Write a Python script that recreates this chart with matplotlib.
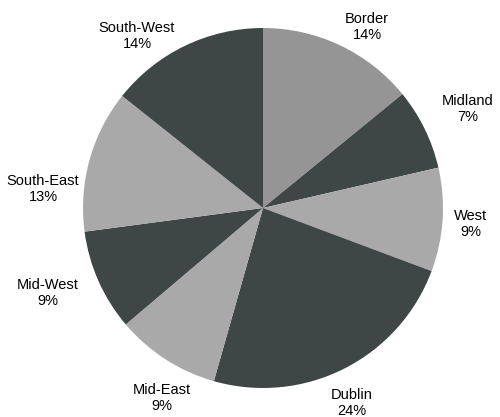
import matplotlib
matplotlib.use("Agg")
import matplotlib.pyplot as plt

regions = ["Border", "Midland", "West", "Dublin", "Mid-East", "Mid-West", "South-East", "South-West"]
shares = [14.1, 7.3, 9.3, 23.7, 9.4, 9.1, 12.8, 14.3]

light1 = "#959595"
light2 = "#a9a9a9"
dark = "#3e4646"
colors = [light1, dark, light2, dark, light2, dark, light2, dark]

# label block centres in pixel coordinates (x, y from top)
label_pos = [(367, 27), (468, 109), (471, 224), (352, 403),
             (162, 398), (48, 293), (43, 189), (137, 36)]

W, H = 500, 417
fig = plt.figure(figsize=(W / 100, H / 100), dpi=100)
ax = fig.add_axes([0, 0, 1, 1])

ax.pie(shares, colors=colors, startangle=90, counterclock=False,
       center=(263, H - 208), radius=180, frame=True,
       wedgeprops=dict(linewidth=0))
ax.set_xlim(0, W)
ax.set_ylim(0, H)
ax.set_aspect("auto")
ax.axis("off")

for name, v, (px, py) in zip(regions, shares, label_pos):
    ax.text(px, H - py, f"{name}\n{v:.0f}%", ha="center", va="center",
            multialignment="center", fontsize=10.5, family="Liberation Sans",
            color="#000000", linespacing=1.15)

fig.savefig("out.png", dpi=100, facecolor="white")
